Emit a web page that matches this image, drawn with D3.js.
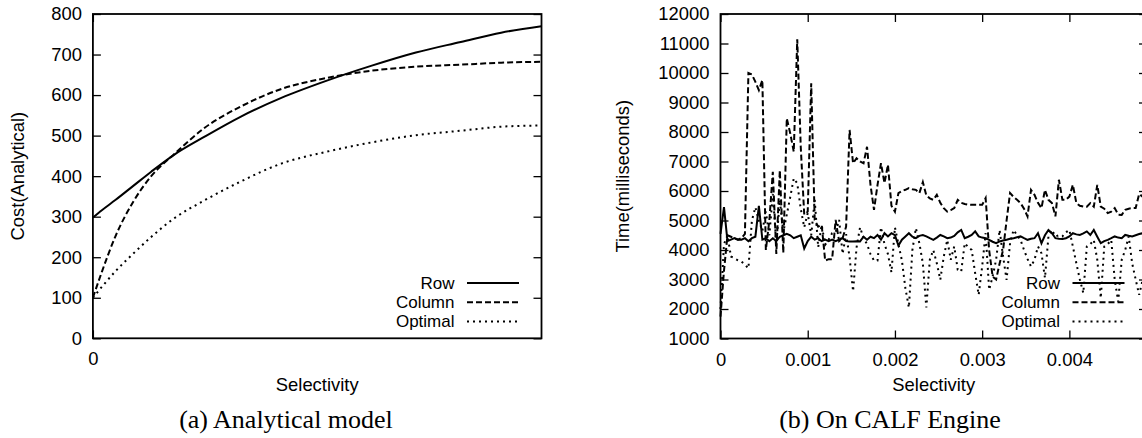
<!DOCTYPE html>
<html>
<head>
<meta charset="utf-8">
<script src="https://cdn.jsdelivr.net/npm/d3@7"></script>
<style>
  body { margin: 0; background: #fff; }
  svg { display: block; }
</style>
</head>
<body>
<svg id="chart"></svg>
<script>
// ---------- data: (a) analytical model ----------
var analyticX   = [0, 0.02, 0.05, 0.09, 0.13, 0.18, 0.25, 0.33, 0.42, 0.52, 0.62, 0.72, 0.82, 0.91, 1];
var analyticRow = [298, 316, 341, 376, 411, 452, 498, 547, 593, 635, 672, 705, 731, 754, 770];
var analyticCol = [100, 164, 251, 337, 400, 453, 520, 572, 615, 642, 660, 670, 675, 680, 682];
var analyticOpt = [100, 127, 165, 209, 250, 295, 341, 387, 431, 460, 483, 501, 512, 522, 525];
var analyticYTicks = [0, 100, 200, 300, 400, 500, 600, 700, 800];
var analyticXTicks = [0];

// ---------- data: (b) on CALF engine ----------
var calfSel = [
  0, 0.00004, 0.00008, 0.00012, 0.00016, 0.0002, 0.00024, 0.00028, 0.00032, 0.00036,
  0.0004, 0.00044, 0.00048, 0.00052, 0.00056, 0.0006, 0.00064, 0.00068, 0.00072, 0.00076,
  0.0008, 0.00084, 0.00088, 0.00092, 0.00096, 0.001, 0.00104, 0.00108, 0.00112, 0.00116,
  0.0012, 0.00124, 0.00128, 0.00132, 0.00136, 0.0014, 0.00144, 0.00148, 0.00152, 0.00156,
  0.0016, 0.00164, 0.00168, 0.00172, 0.00176, 0.0018, 0.00184, 0.00188, 0.00192, 0.00196,
  0.002, 0.00204, 0.00208, 0.00212, 0.00216, 0.0022, 0.00224, 0.00228, 0.00232, 0.00236,
  0.0024, 0.00244, 0.00248, 0.00252, 0.00256, 0.0026, 0.00264, 0.00268, 0.00272, 0.00276,
  0.0028, 0.00284, 0.00288, 0.00292, 0.00296, 0.003, 0.00304, 0.00308, 0.00312, 0.00316,
  0.0032, 0.00324, 0.00328, 0.00332, 0.00336, 0.0034, 0.00344, 0.00348, 0.00352, 0.00356,
  0.0036, 0.00364, 0.00368, 0.00372, 0.00376, 0.0038, 0.00384, 0.00388, 0.00392, 0.00396,
  0.004, 0.00404, 0.00408, 0.00412, 0.00416, 0.0042, 0.00424, 0.00428, 0.00432, 0.00436,
  0.0044, 0.00444, 0.00448, 0.00452, 0.00456, 0.0046, 0.00464, 0.00468, 0.00472, 0.00476,
  0.0048, 0.00484, 0.00488];

var calfRow = [
  4550, 5450, 4300, 4350, 4400, 4350, 4350, 4400, 4300, 4400,
  4450, 5500, 4350, 4400, 4300, 4400, 4300, 4450, 4500, 4550,
  4500, 4400, 4450, 4500, 4050, 4300, 4450, 4350, 4400, 4300,
  4350, 4300, 4350, 4300, 4350, 4400, 4300, 4290, 4290, 4300,
  4290, 4450, 4350, 4450, 4400, 4510, 4350, 4570, 4460, 4570,
  4500, 4150, 4350, 4460, 4570, 4450, 4400, 4480, 4510, 4460,
  4400, 4345, 4420, 4510, 4460, 4400, 4420, 4480, 4600, 4680,
  4400, 4450, 4510, 4630, 4460, 4420, 4400, 4345, 4280, 4230,
  4290, 4320, 4345, 4380, 4400, 4430, 4460, 4400, 4345, 4380,
  4400, 4570, 4230, 4500, 4680, 4570, 4400, 4380, 4370, 4400,
  4460, 4570, 4530, 4510, 4560, 4630, 4510, 4680, 4450, 4230,
  4300, 4345, 4400, 4460, 4420, 4400, 4510, 4480, 4460, 4500,
  4540, 4570, 4500];

var calfCol = [
  1740, 3300, 4500, 4450, 4400, 4350, 4400, 4550, 10000, 9950,
  9700, 9420, 9760, 4000, 5000, 6650, 3870, 6700, 3900, 8460,
  7950, 7330, 11140, 7500, 5200, 5300, 9650, 5020, 4790, 4850,
  3640, 3690, 3690, 5020, 4300, 4400, 4790, 8070, 6940, 7110,
  7000, 6940, 7500, 6200, 5360, 6200, 6940, 6270, 6890, 5500,
  5300, 5930, 6000, 6040, 6100, 6060, 6040, 5930, 6300, 5850,
  5750, 5700, 5870, 5600, 5420, 5300, 5350, 5420, 5700, 5600,
  5560, 5540, 5530, 5530, 5530, 5530, 5760, 4000, 3100, 3000,
  3540, 4000, 5000, 5930, 5800, 5700, 5590, 5400, 5140, 6040,
  5870, 5600, 5420, 6040, 5700, 5590, 5140, 6380, 5700, 5700,
  5810, 6210, 5590, 5500, 5470, 5470, 5590, 5470, 6210, 5470,
  5400, 5250, 5300, 5420, 5200, 5190, 5360, 5400, 5420, 5420,
  5900, 5810, 5500];

var calfOpt = [
  2000, 4200, 4500, 3780, 3720, 3650, 3610, 3500, 3380, 5000,
  5450, 5000, 4650, 5300, 4500, 5900, 4200, 5700, 4600, 5200,
  5800, 6430, 6260, 5400, 4770, 5250, 4500, 5700, 4090, 4850,
  4180, 4350, 4570, 4600, 5020, 3870, 4540, 3750, 2600, 4090,
  4770, 4400, 4200, 3860, 3640, 3640, 4770, 4200, 3860, 3240,
  4770, 4200, 3640, 2700, 2050, 4000, 4740, 4230, 3550, 2050,
  3670, 4000, 3550, 2990, 3780, 4340, 3670, 4120, 3330, 3270,
  4230, 4100, 4000, 3210, 2480, 3440, 4570, 2650, 3100, 3670,
  4680, 3780, 2990, 4230, 4680, 4500, 4340, 4000, 3700, 3440,
  3670, 4120, 3890, 3050, 4460, 4680, 4460, 4500, 4460, 4600,
  4680, 4120, 3550, 3000, 2540, 4120, 4200, 4340, 3670, 2370,
  4120, 4200, 4340, 2990, 2250, 3670, 4000, 4460, 3550, 3000,
  2480, 2990, 3500];

var calfYTicks = [1000, 2000, 3000, 4000, 5000, 6000, 7000, 8000, 9000, 10000, 11000, 12000];
var calfXTicks = [0, 0.001, 0.002, 0.003, 0.004];

var seriesNames = ["Row", "Column", "Optimal"];
var seriesDash  = [null, "6,3", "2,4"];

// ---------- page ----------
var width = 1142, height = 438;
var sansFont = "'Liberation Sans', Arial, Helvetica, sans-serif";
var serifFont = "'Liberation Serif', 'Times New Roman', serif";
var fontSize = 18.4;
var keyFontSize = 17;

var svg = d3.select("#chart")
    .attr("width", width)
    .attr("height", height)
    .style("background", "#fff");

function drawPanel(cfg) {
  var x = d3.scaleLinear().domain(cfg.xDomain).range([cfg.left, cfg.right]);
  var y = d3.scaleLinear().domain(cfg.yDomain).range([cfg.bottom, cfg.top]);
  var g = svg.append("g");

  // axes: gnuplot style, ticks pointing inwards on all four sides
  var axes = [
    { ax: d3.axisLeft(y).tickValues(cfg.yTicks).tickFormat(d3.format("d")).tickPadding(11), at: "translate(" + cfg.left + ",0)" },
    { ax: d3.axisRight(y).tickValues(cfg.yTicks).tickFormat(""), at: "translate(" + cfg.right + ",0)" },
    { ax: d3.axisBottom(x).tickValues(cfg.xTicks).tickFormat(cfg.xFormat).tickPadding(14), at: "translate(0," + cfg.bottom + ")" },
    { ax: d3.axisTop(x).tickValues(cfg.xTicks).tickFormat(""), at: "translate(0," + cfg.top + ")" }
  ];
  axes.forEach(function(a) {
    var ag = g.append("g")
        .attr("transform", a.at)
        .call(a.ax.tickSize(-8));
    ag.select(".domain").remove();
    ag.selectAll(".tick line").attr("stroke", "#000").attr("stroke-width", 1.3);
    ag.attr("font-family", sansFont).attr("font-size", fontSize);
    ag.selectAll(".tick text").attr("fill", "#000");
  });

  // curves
  var line = d3.line()
      .x(function(d) { return x(d[0]); })
      .y(function(d) { return y(d[1]); })
      .curve(cfg.curve);

  cfg.series.forEach(function(vals, k) {
    var pts = cfg.xs.map(function(v, i) { return [v, vals[i]]; });
    g.append("path")
        .datum(pts)
        .attr("d", line)
        .attr("fill", "none")
        .attr("stroke", "#000")
        .attr("stroke-width", 2)
        .attr("stroke-dasharray", seriesDash[k]);
  });

  // plot border
  g.append("rect")
      .attr("x", cfg.left)
      .attr("y", cfg.top)
      .attr("width", cfg.right - cfg.left)
      .attr("height", cfg.bottom - cfg.top)
      .attr("fill", "none")
      .attr("stroke", "#000")
      .attr("stroke-width", 1.8);

  // key, bottom right (rows kept far enough apart that the labels do not touch)
  var key = g.append("g");
  seriesNames.forEach(function(name, k) {
    var base = 289 + k * 19.2;
    key.append("text")
        .attr("x", cfg.right - 87)
        .attr("y", base)
        .attr("text-anchor", "end")
        .attr("font-family", sansFont)
        .attr("font-size", keyFontSize)
        .text(name);
    key.append("line")
        .attr("x1", cfg.right - 74.5)
        .attr("x2", cfg.right - 22.5)
        .attr("y1", base - 6)
        .attr("y2", base - 6)
        .attr("stroke", "#000")
        .attr("stroke-width", 2)
        .attr("stroke-dasharray", seriesDash[k]);
  });

  // axis titles
  g.append("text")
      .attr("x", (cfg.left + cfg.right) / 2)
      .attr("y", 391)
      .attr("text-anchor", "middle")
      .attr("font-family", sansFont)
      .attr("font-size", fontSize)
      .text("Selectivity");

  g.append("text")
      .attr("transform", "translate(" + cfg.yTitleX + "," + (cfg.top + cfg.bottom) / 2 + ") rotate(-90)")
      .attr("text-anchor", "middle")
      .attr("font-family", sansFont)
      .attr("font-size", fontSize)
      .text(cfg.yTitle);

  // sub-figure caption
  g.append("text")
      .attr("x", cfg.captionX)
      .attr("y", 427.5)
      .attr("text-anchor", "middle")
      .attr("font-family", serifFont)
      .attr("font-size", 26)
      .text(cfg.caption);
}

drawPanel({
  left: 92.9, right: 541.5, top: 14, bottom: 338.3,
  xDomain: [0, 1], yDomain: [0, 800],
  xTicks: analyticXTicks, yTicks: analyticYTicks,
  xFormat: d3.format("d"),
  xs: analyticX,
  series: [analyticRow, analyticCol, analyticOpt],
  curve: d3.curveMonotoneX,
  yTitle: "Cost(Analytical)", yTitleX: 23.5,
  caption: "(a) Analytical model", captionX: 286
});

drawPanel({
  left: 720.5, right: 1147, top: 14, bottom: 338.5,
  xDomain: [0, 0.00489], yDomain: [1000, 12000],
  xTicks: calfXTicks, yTicks: calfYTicks,
  xFormat: function(d) { return d === 0 ? "0" : d3.format(".3f")(d); },
  xs: calfSel,
  series: [calfRow, calfCol, calfOpt],
  curve: d3.curveLinear,
  yTitle: "Time(milliseconds)", yTitleX: 629,
  caption: "(b) On CALF Engine", captionX: 890
});
</script>
</body>
</html>
